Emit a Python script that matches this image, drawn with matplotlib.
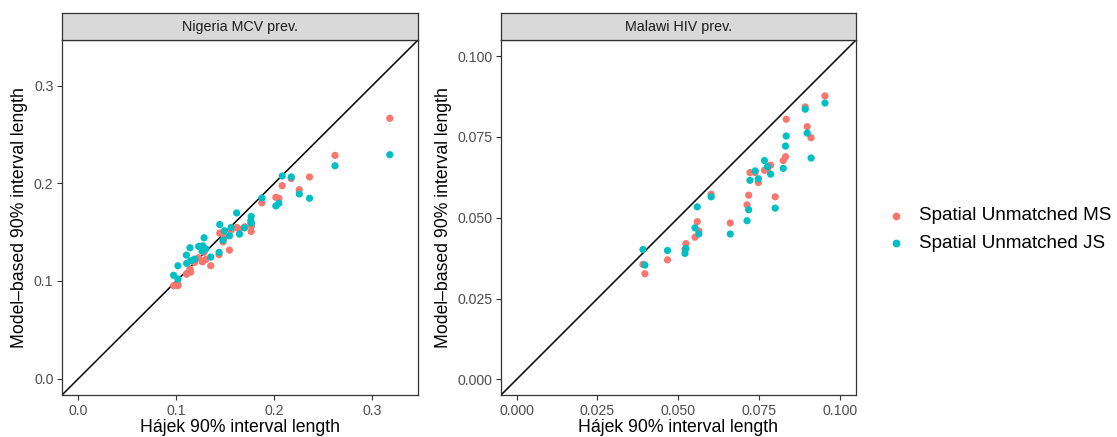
import matplotlib
matplotlib.use("Agg")
import matplotlib.pyplot as plt
from matplotlib.lines import Line2D

plt.rcParams['font.family'] = ['Liberation Sans', 'DejaVu Sans']

# ---- Data: Nigeria MCV prevalence ----
ng_hajek = [0.318, 0.262, 0.236, 0.2255, 0.2173, 0.2081, 0.2047, 0.2016, 0.1873,
            0.1764, 0.1760, 0.1766, 0.1696, 0.1616, 0.1645, 0.1559, 0.1542, 0.1490,
            0.1477, 0.1443, 0.1436, 0.1351, 0.1283, 0.1269, 0.1228, 0.1262, 0.1139,
            0.1102, 0.1146, 0.1187, 0.1016, 0.0972, 0.1016, 0.1105, 0.1300]
ng_ms = [0.2666, 0.2286, 0.2065, 0.1935, 0.2050, 0.1976, 0.1847, 0.1857, 0.1800,
         0.1507, 0.1580, 0.1560, 0.1554, 0.1548, 0.1530, 0.1520, 0.1316, 0.1450,
         0.1400, 0.1490, 0.1269, 0.1156, 0.1293, 0.1197, 0.1238, 0.1200, 0.1122,
         0.1071, 0.1090, 0.1190, 0.0952, 0.0952, 0.0965, 0.1071, 0.1220]
ng_js = [0.2293, 0.2180, 0.1847, 0.1891, 0.2065, 0.2075, 0.1796, 0.1769, 0.1850,
         0.1660, 0.1616, 0.1592, 0.1544, 0.1697, 0.1480, 0.1548, 0.1463, 0.1514,
         0.1418, 0.1578, 0.1293, 0.1245, 0.1442, 0.1360, 0.1354, 0.1306, 0.1340,
         0.1265, 0.1207, 0.1224, 0.1156, 0.1058, 0.1020, 0.1180, 0.1330]

# ---- Data: Malawi HIV prevalence ----
mw_hajek = [0.0954, 0.0893, 0.0899, 0.0911, 0.0834, 0.0832, 0.0825, 0.0786, 0.0767,
            0.0776, 0.0738, 0.0722, 0.0748, 0.0718, 0.0713, 0.0800, 0.0602, 0.0559,
            0.0564, 0.0552, 0.0661, 0.0524, 0.0521, 0.0467, 0.0391, 0.0397]
mw_ms = [0.0877, 0.0843, 0.0782, 0.0748, 0.0805, 0.0689, 0.0677, 0.0663, 0.0647,
         0.0650, 0.0640, 0.0640, 0.0609, 0.0570, 0.0540, 0.0565, 0.0573, 0.0488,
         0.0459, 0.0440, 0.0484, 0.0420, 0.0403, 0.0370, 0.0356, 0.0327]
mw_js = [0.0855, 0.0836, 0.0762, 0.0685, 0.0753, 0.0722, 0.0653, 0.0635, 0.0677,
         0.0658, 0.0645, 0.0616, 0.0621, 0.0525, 0.0491, 0.0530, 0.0565, 0.0534,
         0.0450, 0.0469, 0.0450, 0.0405, 0.0390, 0.0399, 0.0402, 0.0354]

panel_titles = ["Nigeria MCV prev.", "Malawi HIV prev."]
series_names = ["Spatial Unmatched MS", "Spatial Unmatched JS"]
series_colors = ["#F8766D", "#00BFC4"]
ng_ticks = [0.0, 0.1, 0.2, 0.3]
ng_ticklabels = ["0.0", "0.1", "0.2", "0.3"]
mw_ticks = [0.0, 0.025, 0.05, 0.075, 0.1]
mw_ticklabels = ["0.000", "0.025", "0.050", "0.075", "0.100"]

W, H = 1117, 437
fig = plt.figure(figsize=(W / 100, H / 100), dpi=100)

def px_axes(x0, x1, y0, y1):
    return fig.add_axes([x0 / W, 1 - y1 / H, (x1 - x0) / W, (y1 - y0) / H])

panels = [
    dict(box=(62, 418, 40, 395), lim=(-0.0168, 0.3468), x=ng_hajek,
         ys=[ng_ms, ng_js], ticks=ng_ticks, labels=ng_ticklabels,
         title=panel_titles[0], ylab_x=20),
    dict(box=(501, 856, 40, 395), lim=(-0.0048, 0.1050), x=mw_hajek,
         ys=[mw_ms, mw_js], ticks=mw_ticks, labels=mw_ticklabels,
         title=panel_titles[1], ylab_x=443),
]

for p in panels:
    x0, x1, y0, y1 = p['box']
    w, h = x1 - x0, y1 - y0
    ax = px_axes(x0, x1, y0, y1)
    lo, hi = p['lim']
    ax.set_xlim(lo, hi)
    ax.set_ylim(lo, hi)
    for ys, col in zip(p['ys'], series_colors):
        ax.scatter(p['x'], ys, s=27, color=col, edgecolors='none', zorder=3)
    ax.plot([lo, hi], [lo, hi], color='black', lw=1.1, zorder=2)
    ax.set_xticks(p['ticks'])
    ax.set_xticklabels(p['labels'])
    ax.set_yticks(p['ticks'])
    ax.set_yticklabels(p['labels'])
    ax.tick_params(axis='both', length=3.6, width=0.8, color='#333333',
                   labelcolor='#4D4D4D', labelsize=10.2, pad=2.6)
    for s in ax.spines.values():
        s.set_color('#333333')
        s.set_linewidth(0.9)
    ax.set_xlabel("Hájek 90% interval length", fontsize=12.7, color='black')
    ax.set_ylabel("Model–based 90% interval length", fontsize=12.7, color='black')
    ax.xaxis.label.set_va('center')
    ax.yaxis.label.set_va('center')
    ax.xaxis.set_label_coords(0.5, (395 - 428) / h)
    ax.yaxis.set_label_coords((p['ylab_x'] - x0) / w, 0.5)
    # strip
    sax = px_axes(x0, x1, 13, 40)
    sax.set_xticks([]); sax.set_yticks([])
    sax.set_facecolor('#D9D9D9')
    for s in sax.spines.values():
        s.set_color('#333333')
        s.set_linewidth(0.9)
    sax.text(0.5, 0.5, p['title'], ha='center', va='center', fontsize=10.3,
             color='#1A1A1A', transform=sax.transAxes)

# legend (manual placement)
for i, (name, col) in enumerate(zip(series_names, series_colors)):
    yy = 1 - (216 + 27 * i) / H
    fig.add_artist(Line2D([896 / W], [yy], marker='o', linestyle='none', markersize=5.6,
                          markerfacecolor=col, markeredgecolor='none',
                          transform=fig.transFigure))
    fig.text(919 / W, yy, name, ha='left', va='center', fontsize=13.6, color='black')

fig.savefig("out.png", dpi=100)
